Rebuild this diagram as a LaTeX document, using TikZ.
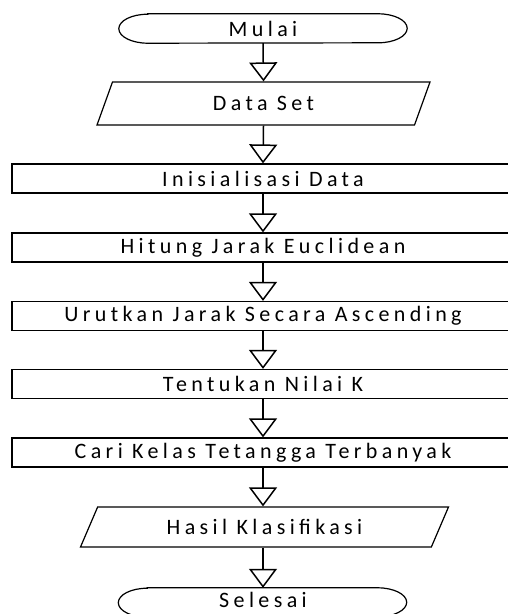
\documentclass[tikz,border=0pt]{standalone}
\usepackage{fontspec}
\setmainfont{Carlito}[LetterSpace=20]
\usetikzlibrary{arrows.meta,shapes.geometric}
\tikzset{
  base/.style={inner sep=0pt, font=\fontsize{22}{26}\selectfont, text=black},
  procbox/.style={base, draw, line width=1.2pt, minimum width=502pt, minimum height=29pt},
  iobox/.style={base, draw, line width=1.2pt, trapezium, trapezium stretches body,
     trapezium left angle=43, trapezium right angle=137, minimum height=43pt},
  termtext/.style={base, minimum width=288pt, minimum height=29pt},
  termline/.style={line width=1.2pt},
  flow/.style={line width=1.5pt, -{Triangle[open, length=19pt, width=28pt, line width=1.5pt]}}
}
\begin{document}
\begin{tikzpicture}[x=1pt,y=-1pt]
\useasboundingbox (0,0) rectangle (508,614);
\clip (0,0) rectangle (508,614);
\fill[white] (0,0) rectangle (508,614);

\node[termtext] (mulai) at (263,28.5) {Mulai};
\draw[termline] ([xshift=29pt]mulai.north west) -- ([xshift=-29pt]mulai.north east)
  arc[start angle=90, end angle=-90, x radius=29pt, y radius=14.5pt]
  -- ([xshift=29pt]mulai.south west)
  arc[start angle=270, end angle=90, x radius=29pt, y radius=14.5pt] -- cycle;

\node[iobox, minimum width=333pt] (data) at (263.5,103.5) {Data Set};
\node[procbox] (init) at (263,178.5) {Inisialisasi Data};
\node[procbox] (hitung) at (263,247.5) {Hitung Jarak Euclidean};
\node[procbox] (urut) at (263,316) {Urutkan Jarak Secara Ascending};
\node[procbox] (nilai) at (263,384) {Tentukan Nilai K};
\node[procbox] (cari) at (263,452.5) {Cari Kelas Tetangga Terbanyak};
\node[iobox, trapezium left angle=42, trapezium right angle=138, minimum height=40pt, minimum width=368pt] (hasil) at (264.5,527) {Hasil Klasifikasi};

\node[termtext] (selesai) at (262.5,602.5) {};
\node[base] (selesaitext) at (263,599.5) {Selesai};
\draw[termline] ([xshift=29pt]selesai.north west) -- ([xshift=-29pt]selesai.north east)
  arc[start angle=90, end angle=-90, x radius=29pt, y radius=14.5pt]
  -- ([xshift=29pt]selesai.south west)
  arc[start angle=270, end angle=90, x radius=29pt, y radius=14.5pt] -- cycle;

\draw[flow] (mulai.south) -- (data.north);
\draw[flow] (data.south) -- (init.north);
\draw[flow] (init.south) -- (hitung.north);
\draw[flow] (hitung.south) -- (urut.north);
\draw[flow] (urut.south) -- (nilai.north);
\draw[flow] (nilai.south) -- (cari.north);
\draw[flow] (cari.south) -- (hasil.north -| cari.south);
\draw[flow] (hasil.south -| cari.south) -- (selesai.north -| cari.south);
\end{tikzpicture}
\end{document}
